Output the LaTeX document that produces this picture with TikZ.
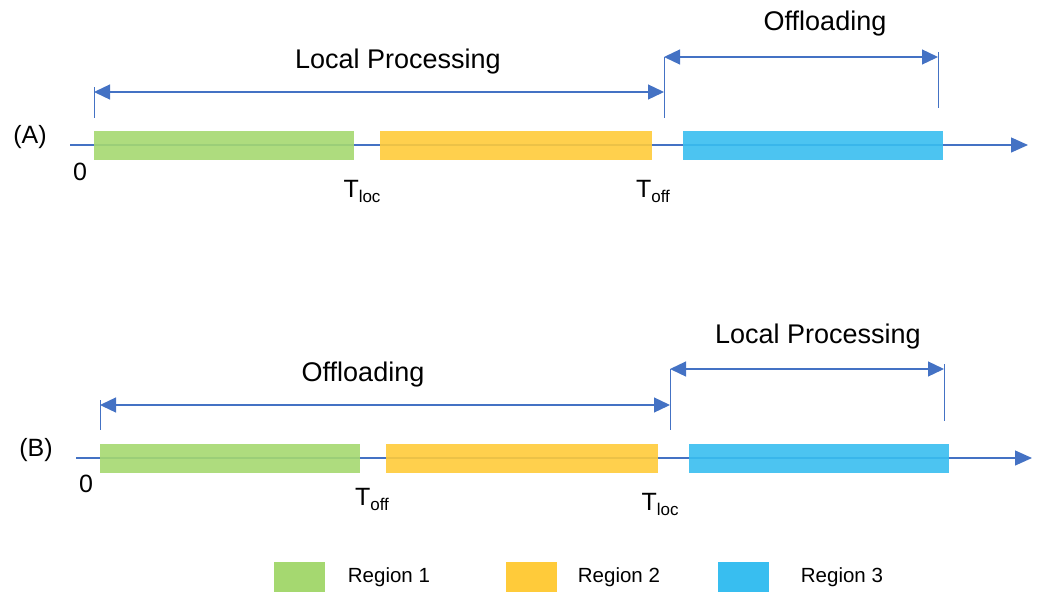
\documentclass[tikz,border=0pt]{standalone}
\usepackage{fontspec}
\setmainfont{Liberation Sans}
\usetikzlibrary{positioning, calc, arrows.meta}
\definecolor{axisblue}{RGB}{68,114,196}
\definecolor{regiongreen}{RGB}{165,216,112}
\definecolor{regionyellow}{RGB}{255,203,58}
\definecolor{regionblue}{RGB}{56,190,240}
\newcommand{\subtxt}[1]{{\fontsize{17}{17}\selectfont\raisebox{-5pt}{#1}}}
\tikzset{
  timeaxis/.style={axisblue, line width=1.3pt, -{Triangle[length=17pt,width=15pt]}},
  span/.style={axisblue, line width=1.3pt, {Triangle[length=16pt,width=15pt]}-{Triangle[length=16pt,width=15pt]}},
  tickline/.style={axisblue, line width=0.9pt},
  bar/.style={inner sep=0, minimum height=29pt, fill opacity=0.9},
  lbl/.style={font=\fontsize{25}{29}\selectfont, inner sep=0},
  spantext/.style={font=\fontsize{27}{31}\selectfont, inner sep=0},
  swatch/.style={inner sep=0, minimum width=51pt, minimum height=30pt},
  keytext/.style={font=\fontsize{20.5}{24}\selectfont, inner sep=0},
}
\begin{document}
\begin{tikzpicture}[x=1pt, y=-1pt]
    \useasboundingbox (0,0) rectangle (1042,592);

    % (A) time axis
    \coordinate (a0) at (70,145);
    \coordinate (aend) at (1028,145);
    \draw[timeaxis] (a0) -- (aend);
    \node[bar, fill=regiongreen, minimum width=260pt] (a1) at (224,145) {};
    \node[bar, fill=regionyellow, minimum width=272pt] (a2) at (516,145) {};
    \node[bar, fill=regionblue, minimum width=260pt] (a3) at (813,145) {};

    % (A) spans
    \coordinate (aL) at (94,87);   \coordinate (aLb) at (94,118);
    \coordinate (aM) at (664,57);  \coordinate (aMb) at (664,118);
    \coordinate (aR) at (938,52);  \coordinate (aRb) at (938,108);
    \draw[tickline] (aL) -- (aLb);
    \draw[tickline] (aM) -- (aMb);
    \draw[tickline] (aR) -- (aRb);
    \draw[span] (aL |- 0,92) -- (aM |- 0,92);
    \draw[span] (aM |- 0,57) -- (aR |- 0,57);
    \node[spantext] (alocal) at (398,62) {Local Processing};
    \node[spantext] (aoff) at (825,24) {Offloading};

    % (A) labels
    \node[lbl] (aname) at (30,137) {(A)};
    \node[lbl] (azero) at (80,172) {0};
    \node[lbl] (atloc) at (362,191) {T\subtxt{loc}};
    \node[lbl] (atoff) at (653,191) {T\subtxt{off}};

    % (B) time axis
    \coordinate (b0) at (76,458);
    \coordinate (bend) at (1032,458);
    \draw[timeaxis] (b0) -- (bend);
    \node[bar, fill=regiongreen, minimum width=260pt] (b1) at (230,458) {};
    \node[bar, fill=regionyellow, minimum width=272pt] (b2) at (522,458) {};
    \node[bar, fill=regionblue, minimum width=260pt] (b3) at (819,458) {};

    % (B) spans
    \coordinate (bL) at (100,400); \coordinate (bLb) at (100,430);
    \coordinate (bM) at (670,369); \coordinate (bMb) at (670,430);
    \coordinate (bR) at (944,364); \coordinate (bRb) at (944,421);
    \draw[tickline] (bL) -- (bLb);
    \draw[tickline] (bM) -- (bMb);
    \draw[tickline] (bR) -- (bRb);
    \draw[span] (bL |- 0,405) -- (bM |- 0,405);
    \draw[span] (bM |- 0,369) -- (bR |- 0,369);
    \node[spantext] (boff) at (363,375) {Offloading};
    \node[spantext] (blocal) at (818,337) {Local Processing};

    % (B) labels
    \node[lbl] (bname) at (36,450) {(B)};
    \node[lbl] (bzero) at (86,484) {0};
    \node[lbl] (btoff) at (372,499) {T\subtxt{off}};
    \node[lbl] (btloc) at (660,504) {T\subtxt{loc}};

    % Legend
    \node[swatch, fill=regiongreen] (k1) at (299,577) {};
    \node[keytext, right=23pt of k1] (k1t) {Region 1};
    \node[swatch, fill=regionyellow] (k2) at (531,577) {};
    \node[keytext, right=21pt of k2] (k2t) {Region 2};
    \node[swatch, fill=regionblue] (k3) at (743,577) {};
    \node[keytext, right=32pt of k3] (k3t) {Region 3};

\end{tikzpicture}
\end{document}
